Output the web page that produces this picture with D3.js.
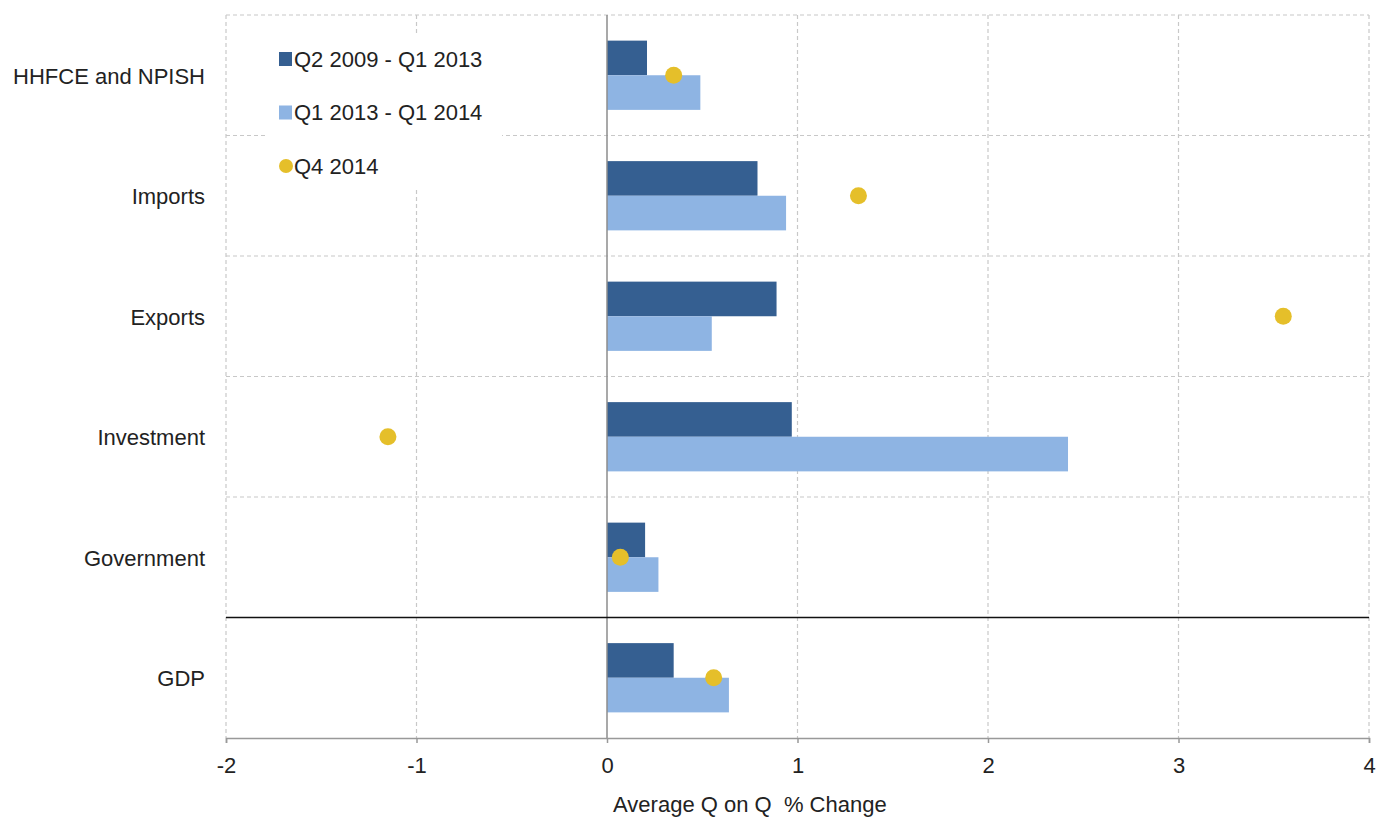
<!DOCTYPE html>
<meta charset="utf-8">
<script src="https://d3js.org/d3.v7.min.js"></script>
<style>
body { margin: 0; background: #fff; }
svg text { font-family: "Liberation Sans", Arial, sans-serif; fill: #222; }
.grid line { stroke: #c8c8c8; stroke-width: 1.2px; stroke-dasharray: 4px 3px; }
.cat-label { font-size: 22px; }
.axis text { font-size: 22px; }
.legend text { font-size: 22px; }
</style>
<body></body>
<script>

// chart values
var categories = ['HHFCE and NPISH', 'Imports', 'Exports', 'Investment', 'Government', 'GDP'];
var seriesNames = ['Q2 2009 - Q1 2013', 'Q1 2013 - Q1 2014', 'Q4 2014'];
var period1 = [0.21, 0.79, 0.89, 0.97, 0.20, 0.35];   // Q2 2009 - Q1 2013
var period2 = [0.49, 0.94, 0.55, 2.42, 0.27, 0.64];   // Q1 2013 - Q1 2014
var q42014 = [0.35, 1.32, 3.55, -1.15, 0.07, 0.56];   // Q4 2014
var xTicks = [-2, -1, 0, 1, 2, 3, 4];

var colors = ['#355f91', '#8eb4e3', '#e5bf2a'];

var margin = {top: 15, right: 9, bottom: 79, left: 226};
var width = 1378 - margin.left - margin.right,
    height = 817 - margin.top - margin.bottom;

var svg = d3.select('body').append('svg')
    .attr('width', 1378)
    .attr('height', 817)
  .append('g')
    .attr('transform', 'translate(' + margin.left + ',' + margin.top + ')');

var xScale = d3.scaleLinear().domain([-2, 4]).range([0, width]);
var yScale = d3.scaleBand().domain(categories).range([0, height]);
var barScale = d3.scaleBand().domain([0, 1]).range([0, yScale.bandwidth()]).paddingOuter(0.74);

// grid
var grid = svg.append('g').attr('class', 'grid');
grid.selectAll('.vline')
  .data(xTicks.filter(function(d) { return d != 0; }))
  .enter().append('line')
  .attr('x1', function(d) { return xScale(d); })
  .attr('x2', function(d) { return xScale(d); })
  .attr('y1', 0).attr('y2', height);
grid.selectAll('.hline')
  .data(categories.slice(0, 5))
  .enter().append('line')
  .attr('x1', 0).attr('x2', width)
  .attr('y1', function(d) { return yScale(d); })
  .attr('y2', function(d) { return yScale(d); });

// legend box covers the grid
var legend = svg.append('g').attr('class', 'legend').attr('transform', 'translate(42,18)');
legend.append('rect')
  .attr('width', 234).attr('height', 157)
  .style('fill', '#fff');

// bars
var rows = svg.selectAll('.row')
  .data(categories)
  .enter().append('g')
  .attr('transform', function(d) { return 'translate(0,' + yScale(d) + ')'; });

rows.append('rect')
  .attr('x', xScale(0))
  .attr('y', barScale(0))
  .attr('width', function(d, i) { return xScale(period1[i]) - xScale(0); })
  .attr('height', barScale.bandwidth())
  .style('fill', colors[0]);

rows.append('rect')
  .attr('x', xScale(0))
  .attr('y', barScale(1))
  .attr('width', function(d, i) { return xScale(period2[i]) - xScale(0); })
  .attr('height', barScale.bandwidth())
  .style('fill', colors[1]);

// zero line
svg.append('line')
  .attr('x1', xScale(0)).attr('x2', xScale(0))
  .attr('y1', 0).attr('y2', height)
  .style('stroke', '#8c8c8c').style('stroke-width', 1.5);

// separator above GDP
svg.append('line')
  .attr('x1', 0).attr('x2', width)
  .attr('y1', yScale('GDP')).attr('y2', yScale('GDP'))
  .style('stroke', '#111').style('stroke-width', 1.5);

// dots
rows.append('circle')
  .attr('cx', function(d, i) { return xScale(q42014[i]); })
  .attr('cy', yScale.bandwidth() / 2)
  .attr('r', 8.5)
  .style('fill', colors[2]);

// category labels
rows.append('text')
  .attr('class', 'cat-label')
  .attr('x', -21)
  .attr('y', yScale.bandwidth() / 2 + 1)
  .attr('dy', '0.35em')
  .attr('text-anchor', 'end')
  .text(function(d) { return d; });

// x axis
var xAxis = d3.axisBottom(xScale).tickValues(xTicks).tickSize(5).tickPadding(14)
  .tickFormat(function(d) { return String(d); });
var xAxisGroup = svg.append('g')
  .attr('class', 'axis')
  .attr('transform', 'translate(0,' + height + ')')
  .call(xAxis);
xAxisGroup.select('.domain').style('stroke', '#999').style('stroke-width', 1.5);
xAxisGroup.selectAll('.tick line').style('stroke', '#999').style('stroke-width', 1.5);
xAxisGroup.selectAll('.tick text').style('fill', '#222');

svg.append('text')
  .attr('x', xScale(0.75))
  .attr('y', height + 74)
  .attr('text-anchor', 'middle')
  .style('font-size', '22px')
  .style('white-space', 'pre')
  .text('Average Q on Q  % Change');

// legend entries
var items = legend.selectAll('.item')
  .data(seriesNames)
  .enter().append('g')
  .attr('transform', function(d, i) { return 'translate(11,' + (26 + i * 53.5) + ')'; });

items.filter(function(d, i) { return i < 2; }).append('rect')
  .attr('x', 0).attr('y', -7)
  .attr('width', 13).attr('height', 14)
  .style('fill', function(d, i) { return colors[i]; });

items.filter(function(d, i) { return i == 2; }).append('circle')
  .attr('cx', 7).attr('cy', 0).attr('r', 7)
  .style('fill', colors[2]);

items.append('text')
  .attr('x', 15)
  .attr('dy', '0.36em')
  .text(function(d) { return d; });

</script>
